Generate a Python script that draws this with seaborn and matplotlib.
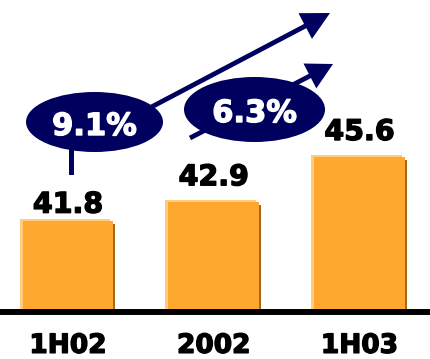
import matplotlib
matplotlib.use("Agg")
import matplotlib.pyplot as plt
import matplotlib.transforms as mtransforms
import matplotlib.patheffects as pe
from matplotlib.patches import Ellipse, FancyArrow, Rectangle
import seaborn as sns
import pandas as pd

# Data
categories = ["1H02", "2002", "1H03"]
values = [41.8, 42.9, 45.6]
growth_labels = ["9.1%", "6.3%"]

# Styling
ORANGE = "#FFA82F"
ORANGE_LIGHT = "#FFCB7C"
ORANGE_DARK = "#A3681E"
NAVY = "#00005E"

sns.set_theme(style="white")
plt.rcParams["font.family"] = ["DejaVu Sans"]

W, H = 431, 359
fig = plt.figure(figsize=(W / 100, H / 100), dpi=100)
ax = fig.add_axes([0, 47 / H, 1, 312 / H])

df = pd.DataFrame({"period": categories, "value": values})
sns.barplot(data=df, x="period", y="value", color=ORANGE, saturation=1,
            width=0.624, ax=ax, zorder=3, edgecolor="none", linewidth=0)

ax.set_xlim(-0.4666, 2.4906)
ax.set_ylim(36.35, 54.97)

# Light highlight and dark shadow behind each bar
bars = list(ax.patches)
for p in bars:
    p.set_edgecolor("none")
    p.set_linewidth(0)
    for dx, dy, col, z in [(2, -3, ORANGE_DARK, 1), (-3, 2, ORANGE_LIGHT, 2)]:
        tr = mtransforms.offset_copy(ax.transData, fig=fig, x=dx, y=dy, units="dots")
        ax.add_patch(Rectangle((p.get_x(), p.get_y()), p.get_width(), p.get_height(),
                               facecolor=col, edgecolor="none", linewidth=0,
                               transform=tr, zorder=z))

bold_black = [pe.withStroke(linewidth=1.0, foreground="black")]
bold_white = [pe.withStroke(linewidth=1.0, foreground="white")]

# Value labels above bars
label_offsets = [8, 17, 17]
for i, (v, off) in enumerate(zip(values, label_offsets)):
    ax.annotate(f"{v:.1f}", xy=(i, v), xytext=(0, off), textcoords="offset pixels",
                ha="center", va="baseline", fontsize=20.5, fontweight="bold",
                color="black", zorder=5, path_effects=bold_black)

# Axis styling
for side in ["left", "right", "top"]:
    ax.spines[side].set_visible(False)
ax.spines["bottom"].set_linewidth(4.3)
ax.spines["bottom"].set_color("black")
ax.spines["bottom"].set_zorder(6)
ax.set_yticks([])
ax.set_xlabel("")
ax.set_ylabel("")
ax.tick_params(axis="x", length=0, pad=15, labelsize=19)
for t in ax.get_xticklabels():
    t.set_fontweight("bold")
    t.set_color("black")
    t.set_path_effects(bold_black)

# Growth callouts in pixel coordinates (origin top-left)
px = mtransforms.Affine2D().scale(1 / W, -1 / H).translate(0, 1) + fig.transFigure


def arrow(x0, y0, x1, y1, hw, hl):
    fig.add_artist(FancyArrow(x0, y0, x1 - x0, y1 - y0, width=4.8, head_width=hw,
                              head_length=hl, length_includes_head=True,
                              color=NAVY, lw=0, transform=px, zorder=7))


arrow(140, 113, 330, 13, 29, 28)
arrow(190, 138, 333, 64, 28, 26)
fig.add_artist(Rectangle((69.5, 130), 5, 45, facecolor=NAVY, edgecolor="none",
                         transform=px, zorder=7))

for (cx, cy, ew, eh), label, base in zip([(94.5, 122, 137, 60), (254.5, 109.5, 141, 65)],
                                         growth_labels, [135, 122]):
    fig.add_artist(Ellipse((cx, cy), ew, eh, facecolor=NAVY, edgecolor="none",
                           transform=px, zorder=8))
    fig.text(cx, base, label, transform=px, ha="center", va="baseline",
             fontsize=22, fontweight="bold", color="white", zorder=9,
             path_effects=bold_white)

fig.savefig("out.png", dpi=100)
